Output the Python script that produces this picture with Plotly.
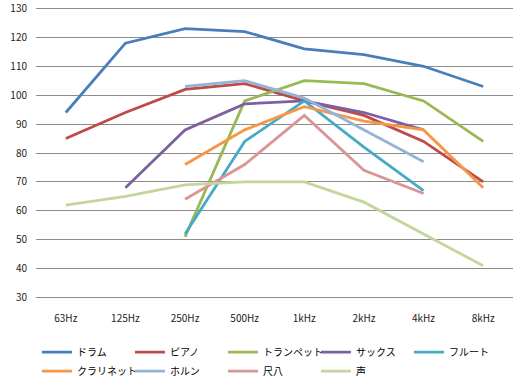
import plotly.graph_objects as go

categories = ["63Hz", "125Hz", "250Hz", "500Hz", "1kHz", "2kHz", "4kHz", "8kHz"]

drum = [94, 118, 123, 122, 116, 114, 110, 103]
piano = [85, 94, 102, 104, 98, 93, 84, 70]
trumpet = [None, None, 51, 98, 105, 104, 98, 84]
sax = [None, 68, 88, 97, 98, 94, 88, None]
flute = [None, None, 52, 84, 98, 82, 67, None]
clarinet = [None, None, 76, 88, 96, 91, 88, 68]
horn = [None, None, 103, 105, 99, 88, 77, None]
shakuhachi = [None, None, 64, 76, 93, 74, 66, None]
voice = [62, 65, 69, 70, 70, 63, 52, 41]

series_names = ["ドラム", "ピアノ", "トランペット", "サックス", "フルート",
                "クラリネット", "ホルン", "尺八", "声"]
series_values = [drum, piano, trumpet, sax, flute, clarinet, horn, shakuhachi, voice]
colors = ["#4A7EBB", "#BE4B48", "#98B954", "#7D60A0", "#46AAC5",
          "#F79646", "#95B3D7", "#D99694", "#C3D69B"]

y_ticks = list(range(30, 131, 10))

fig = go.Figure()
for name, vals, col in zip(series_names, series_values, colors):
    fig.add_trace(go.Scatter(
        x=categories, y=vals, name=name, mode="lines",
        line=dict(color=col, width=2.8),
        connectgaps=False,
    ))

font_family = "Noto Sans CJK JP, Noto Sans, sans-serif"

fig.update_layout(
    width=520, height=388,
    margin=dict(l=36, r=7, t=7, b=89, autoexpand=False),
    paper_bgcolor="white", plot_bgcolor="white",
    font=dict(family=font_family, size=10, color="#222222"),
    showlegend=True,
    legend=dict(
        orientation="h",
        x=0.002, y=-0.132, xanchor="left", yanchor="top",
        entrywidth=48, entrywidthmode="pixels",
        font=dict(family=font_family, size=10, color="#000000"),
        itemwidth=30,
        tracegroupgap=0,
        bgcolor="rgba(0,0,0,0)",
    ),
    xaxis=dict(
        type="category", categoryorder="array", categoryarray=categories,
        range=[-0.5, 7.5], automargin=False,
        showgrid=False, zeroline=False, showline=False,
        ticks="", ticklabelstandoff=12,
        tickfont=dict(size=10, color="#222222"),
    ),
    yaxis=dict(
        range=[29.5, 130.5], tickvals=y_ticks, automargin=False,
        showgrid=True, gridcolor="#8C8C8C", gridwidth=1,
        zeroline=False, showline=False, ticks="",
        ticklabelstandoff=8, ticklabeloverflow="allow",
        tickfont=dict(size=10, color="#222222"),
    ),
)

fig.write_html(
    "out.html",
    config={"displayModeBar": False},
    post_script="document.body.style.margin='0';document.body.style.padding='0';",
)
